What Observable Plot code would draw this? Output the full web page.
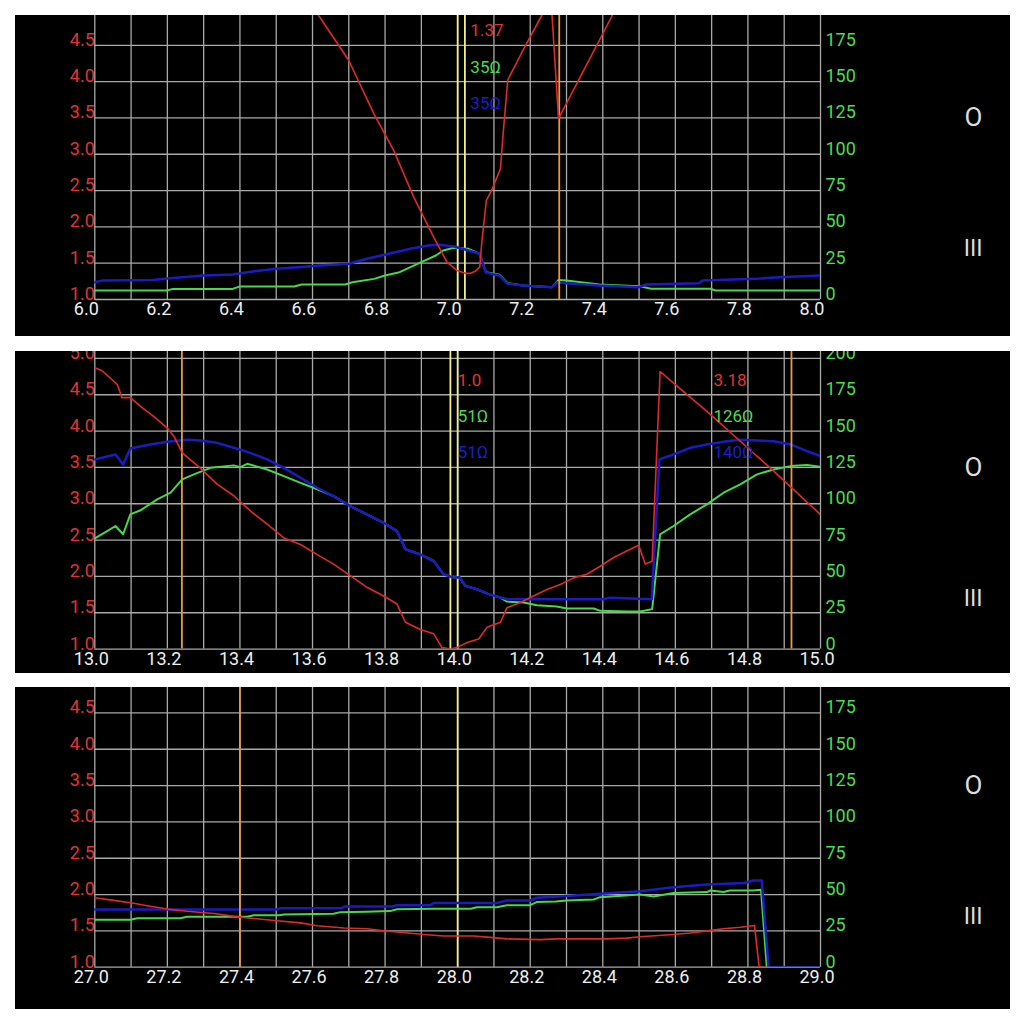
<!DOCTYPE html>
<html><head><meta charset="utf-8">
<script src="https://cdn.jsdelivr.net/npm/d3@7"></script>
<script src="https://cdn.jsdelivr.net/npm/@observablehq/plot@0.6"></script>
<style>
html,body{margin:0;padding:0;background:#fff;}
#wrap{position:relative;width:1024px;height:1024px;overflow:hidden;}
.panel{position:absolute;left:15px;}
.panel svg{display:block;}
</style></head><body><div id="wrap"></div>
<script>
// ---------- Panel 1 (6–8 MHz) ----------
const p1XTicks = [6.0, 6.2, 6.4, 6.6, 6.8, 7.0, 7.2, 7.4, 7.6, 7.8, 8.0];
const p1SwrTicks = [1.0, 1.5, 2.0, 2.5, 3.0, 3.5, 4.0, 4.5];
const p1OhmTicks = [0, 25, 50, 75, 100, 125, 150, 175];
const p1Swr = [[6.60,5.05],[6.617,4.91],[6.70,4.29],[6.769,3.56],[6.824,3.05],[6.879,2.41],[6.934,1.86],[6.971,1.51],[6.998,1.40],[7.021,1.36],[7.035,1.36],[7.049,1.39],[7.061,1.45],[7.067,1.81],[7.079,2.36],[7.095,2.52],[7.118,2.80],[7.125,3.26],[7.138,4.02],[7.182,4.45],[7.232,4.91],[7.257,5.16],[7.278,3.49],[7.393,4.59],[7.426,4.91],[7.45,5.15]];
const p1Z = [[6.0,11.9],[6.02,13.0],[6.16,13.5],[6.2,14.5],[6.3,16.5],[6.38,17.2],[6.44,19.5],[6.50,21.1],[6.57,22.3],[6.62,23.4],[6.70,24.6],[6.75,28.0],[6.81,31.5],[6.87,34.9],[6.92,37.2],[6.95,37.7],[6.99,36.5],[7.03,33.7],[7.06,31.5],[7.078,18.5],[7.115,16.5],[7.138,10.8],[7.18,9.6],[7.26,8.5],[7.275,11.9],[7.30,11.2],[7.39,9.6],[7.50,8.5],[7.52,10.3],[7.665,11.2],[7.675,13],[7.82,14.2],[7.886,15.4],[8.0,16.5]];
const p1R = [[6.0,6.2],[6.2,6.2],[6.215,7.3],[6.38,7.3],[6.40,9.0],[6.55,9.0],[6.57,10.3],[6.69,10.3],[6.71,11.9],[6.77,14.2],[6.80,16.5],[6.84,18.8],[6.87,22.3],[6.90,25.7],[6.94,30.3],[6.96,33.7],[6.99,35.6],[7.03,34.9],[7.06,31.5],[7.078,18.8],[7.115,17],[7.138,11.2],[7.18,9.6],[7.26,8.5],[7.278,13.5],[7.30,13],[7.39,10.3],[7.50,9.2],[7.533,7.4],[7.697,7.4],[7.71,6.2],[8.0,6.2]];
const p1Yellow = [7.0, 7.02];
const p1Orange = [7.28];
const p1MarkerX = [7.035];
const p1MarkerText = [["1.37", "35Ω", "35Ω"]];

// ---------- Panel 2 (13–15 MHz) ----------
const p2XTicks = [13.0, 13.2, 13.4, 13.6, 13.8, 14.0, 14.2, 14.4, 14.6, 14.8, 15.0];
const p2SwrTicks = [1.0, 1.5, 2.0, 2.5, 3.0, 3.5, 4.0, 4.5, 5.0];
const p2OhmTicks = [0, 25, 50, 75, 100, 125, 150, 175, 200];
const p2Swr = [[13.0,4.87],[13.02,4.83],[13.043,4.73],[13.062,4.64],[13.075,4.46],[13.098,4.46],[13.126,4.34],[13.163,4.20],[13.2,4.04],[13.218,3.93],[13.241,3.70],[13.291,3.49],[13.337,3.27],[13.383,3.11],[13.429,2.90],[13.475,2.72],[13.521,2.53],[13.567,2.44],[13.613,2.30],[13.658,2.17],[13.704,2.01],[13.75,1.85],[13.796,1.73],[13.833,1.62],[13.856,1.37],[13.897,1.27],[13.934,1.21],[13.957,1.02],[13.98,1.0],[13.998,1.02],[14.026,1.09],[14.058,1.14],[14.081,1.30],[14.118,1.37],[14.136,1.57],[14.173,1.64],[14.209,1.73],[14.246,1.82],[14.283,1.89],[14.32,1.98],[14.356,2.03],[14.393,2.14],[14.43,2.26],[14.466,2.35],[14.499,2.43],[14.517,2.17],[14.536,2.21],[14.558,4.82],[14.595,4.66],[14.687,4.27],[14.779,3.86],[14.871,3.45],[15.0,2.85]];
const p2Z = [[13.0,130.5],[13.057,133.9],[13.078,127],[13.098,138],[13.153,140.8],[13.2,142.6],[13.255,144],[13.291,143.5],[13.337,141.9],[13.383,138.5],[13.429,135],[13.475,130.5],[13.521,124.7],[13.567,117.9],[13.613,111],[13.658,105.3],[13.704,98.4],[13.75,92.7],[13.796,86.9],[13.833,81.2],[13.856,68.7],[13.897,65.2],[13.934,60.6],[13.961,51.5],[13.989,49.2],[14.005,49.5],[14.021,43.5],[14.053,41.2],[14.085,37.8],[14.136,34.3],[14.402,34.3],[14.42,35.4],[14.535,34.3],[14.556,130.5],[14.595,133.9],[14.641,138.5],[14.687,140.8],[14.742,143],[14.779,144],[14.825,143.5],[14.871,143],[14.917,140.8],[14.963,136.2],[15.0,132.8]];
const p2R = [[13.0,76.2],[13.034,81.2],[13.057,84.7],[13.078,79],[13.098,92.7],[13.126,95.5],[13.172,103],[13.209,107.6],[13.241,116.8],[13.273,120.2],[13.319,124.7],[13.383,126.4],[13.401,125.2],[13.42,127.5],[13.475,123.6],[13.521,119],[13.567,114.4],[13.613,110],[13.658,105.3],[13.704,98.4],[13.75,92.7],[13.796,86.9],[13.833,81.2],[13.856,68.7],[13.897,65.2],[13.934,60.6],[13.961,51.5],[13.989,49.2],[14.005,49.5],[14.021,43.5],[14.053,41.2],[14.085,37.8],[14.118,35.4],[14.136,32.7],[14.182,32],[14.218,30.2],[14.273,29.3],[14.301,27.9],[14.375,27.9],[14.393,26.3],[14.466,25.8],[14.503,25.8],[14.536,27.5],[14.558,79],[14.595,84.7],[14.641,92.7],[14.687,99.6],[14.733,107.6],[14.779,113.3],[14.825,120.2],[14.871,123.6],[14.917,125.9],[14.963,126.6],[15.0,125.4]];
const p2Yellow = [13.98, 14.0];
const p2Orange = [13.24, 14.92];
const p2MarkerX = [14.0, 14.705];
const p2MarkerText = [["1.0", "51Ω", "51Ω"], ["3.18", "126Ω", "140Ω"]];

// ---------- Panel 3 (27–29 MHz) ----------
const p3XTicks = [27.0, 27.2, 27.4, 27.6, 27.8, 28.0, 28.2, 28.4, 28.6, 28.8, 29.0];
const p3SwrTicks = [1.0, 1.5, 2.0, 2.5, 3.0, 3.5, 4.0, 4.5];
const p3OhmTicks = [0, 25, 50, 75, 100, 125, 150, 175];
const p3Swr = [[27.0,1.956],[27.052,1.92],[27.107,1.88],[27.144,1.846],[27.2,1.80],[27.254,1.77],[27.328,1.74],[27.383,1.70],[27.438,1.67],[27.502,1.64],[27.567,1.61],[27.613,1.57],[27.686,1.54],[27.75,1.53],[27.796,1.50],[27.842,1.48],[27.906,1.45],[27.961,1.43],[28.044,1.43],[28.09,1.41],[28.136,1.39],[28.228,1.38],[28.274,1.39],[28.411,1.39],[28.466,1.40],[28.503,1.42],[28.595,1.45],[28.641,1.47],[28.687,1.50],[28.733,1.53],[28.779,1.55],[28.818,1.575],[28.831,1.0],[28.857,1.0]];
const p3Z = [[27.0,39.7],[27.5,39.7],[27.512,40.6],[27.68,40.6],[27.69,41.8],[27.82,41.8],[27.833,42.7],[27.925,42.7],[27.934,44.1],[28.108,44.1],[28.136,45.9],[28.2,45.9],[28.218,47.8],[28.32,49.4],[28.393,50.5],[28.503,52.3],[28.595,55.1],[28.687,57],[28.79,57.9],[28.815,59.7],[28.838,59.7],[28.857,0],[29.0,0]];
const p3R = [[27.0,32.6],[27.098,32.6],[27.117,33.7],[27.236,33.7],[27.254,34.7],[27.42,34.7],[27.438,35.8],[27.51,35.8],[27.52,36.3],[27.658,36.8],[27.677,37.9],[27.75,38.2],[27.814,38.6],[27.833,39.9],[27.934,40.2],[28.036,40.2],[28.053,41.3],[28.108,41.3],[28.136,42.7],[28.2,42.7],[28.218,44.8],[28.27,45.3],[28.3,45.9],[28.375,46.6],[28.393,48.2],[28.503,50.1],[28.54,48.7],[28.595,51],[28.687,51.7],[28.696,52.8],[28.733,51.7],[28.75,52.8],[28.815,52.8],[28.836,53.3],[28.852,0],[29.0,0]];
const p3Yellow = [28.0];
const p3Orange = [27.4];
const p3MarkerX = [];
const p3MarkerText = [];

// ---------- styling ----------
const RED = "#e02a2a", GREEN = "#46d846", BLUE = "#1b1bc4";
const TXT_RED = "#e03434", TXT_GREEN = "#4cdc4c", TXT_BLUE = "#1e1ecc";
const GRID = "#a9a9a9", YELLOW = "#f2ef86", ORANGE = "#e89a3c";
const labelRows = [4.7, 4.2, 3.7];
const ohm = v => 1 + v / 50; // right-axis ohms expressed in SWR-axis units

const panels = [
  {top: 15, height: 321, mb: 37, ymax: 4.91, xt: p1XTicks, st: p1SwrTicks, ot: p1OhmTicks, swr: p1Swr, z: p1Z, r: p1R, yel: p1Yellow, ora: p1Orange, mx: p1MarkerX, mt: p1MarkerText},
  {top: 351, height: 322, mb: 24.4, ymax: 5.095, xt: p2XTicks, st: p2SwrTicks, ot: p2OhmTicks, swr: p2Swr, z: p2Z, r: p2R, yel: p2Yellow, ora: p2Orange, mx: p2MarkerX, mt: p2MarkerText},
  {top: 687, height: 322, mb: 42.3, ymax: 4.85, xt: p3XTicks, st: p3SwrTicks, ot: p3OhmTicks, swr: p3Swr, z: p3Z, r: p3R, yel: p3Yellow, ora: p3Orange, mx: p3MarkerX, mt: p3MarkerText}
];

const wrap = document.getElementById("wrap");
for (const p of panels) {
  const x0 = p.xt[0], x1 = p.xt[p.xt.length - 1];
  const vGrid = d3.range(0, 21).map(i => +(x0 + i * 0.1).toFixed(2));
  const hGrid = p.st;
  const markerData = [];
  p.mx.forEach((mx, i) => p.mt[i].forEach((t, j) => markerData.push({x: mx, y: labelRows[j], t, c: [TXT_RED, TXT_GREEN, TXT_BLUE][j]})));
  const chart = Plot.plot({
    width: 995, height: p.height,
    marginLeft: 79.3, marginRight: 190, marginTop: 0, marginBottom: p.mb,
    x: {domain: [x0, x1], axis: null},
    y: {domain: [1, p.ymax], axis: null},
    style: {background: "black", overflow: "hidden", fontFamily: "Roboto, 'Noto Sans', sans-serif"},
    marks: [
      Plot.ruleX(vGrid, {x: d => d, stroke: GRID, strokeWidth: 1.3}),
      Plot.ruleY(hGrid, {y: d => d, stroke: GRID, strokeWidth: 1.3}),
      Plot.ruleX(p.yel, {x: d => d, stroke: YELLOW, strokeWidth: 1.8}),
      Plot.line(p.r, {x: d => d[0], y: d => ohm(d[1]), stroke: GREEN, strokeWidth: 2, clip: true}),
      Plot.line(p.z, {x: d => d[0], y: d => ohm(d[1]), stroke: BLUE, strokeWidth: 2.5, clip: true}),
      Plot.ruleX(p.ora, {x: d => d, stroke: ORANGE, strokeWidth: 1.8}),
      Plot.line(p.swr, {x: d => d[0], y: d => d[1], stroke: RED, strokeWidth: 1.6, clip: true}),
      Plot.text(p.xt, {x: d => d, frameAnchor: "bottom", dy: 15.5, dx: -21, textAnchor: "start", lineAnchor: "bottom", text: d => d.toFixed(1), fill: "#eeeeee", fontSize: 18}),
      Plot.text(p.st, {y: d => d, frameAnchor: "left", textAnchor: "end", lineAnchor: "bottom", dy: 0.5, text: d => d.toFixed(1), fill: TXT_RED, fontSize: 18}),
      Plot.text(p.ot, {y: d => ohm(d), frameAnchor: "right", textAnchor: "start", lineAnchor: "bottom", dx: 5, dy: 0.5, text: d => String(d), fill: TXT_GREEN, fontSize: 18}),
      Plot.text(markerData, {x: "x", y: "y", text: "t", fill: "c", textAnchor: "start", lineAnchor: "middle", fontSize: 17}),
      Plot.text([3.5], {y: d => d, frameAnchor: "right", dx: 162, text: () => "O", fill: "#dddddd", fontSize: 26, lineAnchor: "middle"}),
      Plot.text([1.7], {y: d => d, frameAnchor: "right", dx: 162, text: () => "III", fill: "#dddddd", fontSize: 23, lineAnchor: "middle"})
    ]
  });
  const div = document.createElement("div");
  div.className = "panel";
  div.style.top = p.top + "px";
  div.appendChild(chart);
  wrap.appendChild(div);
}
</script>
</body></html>
